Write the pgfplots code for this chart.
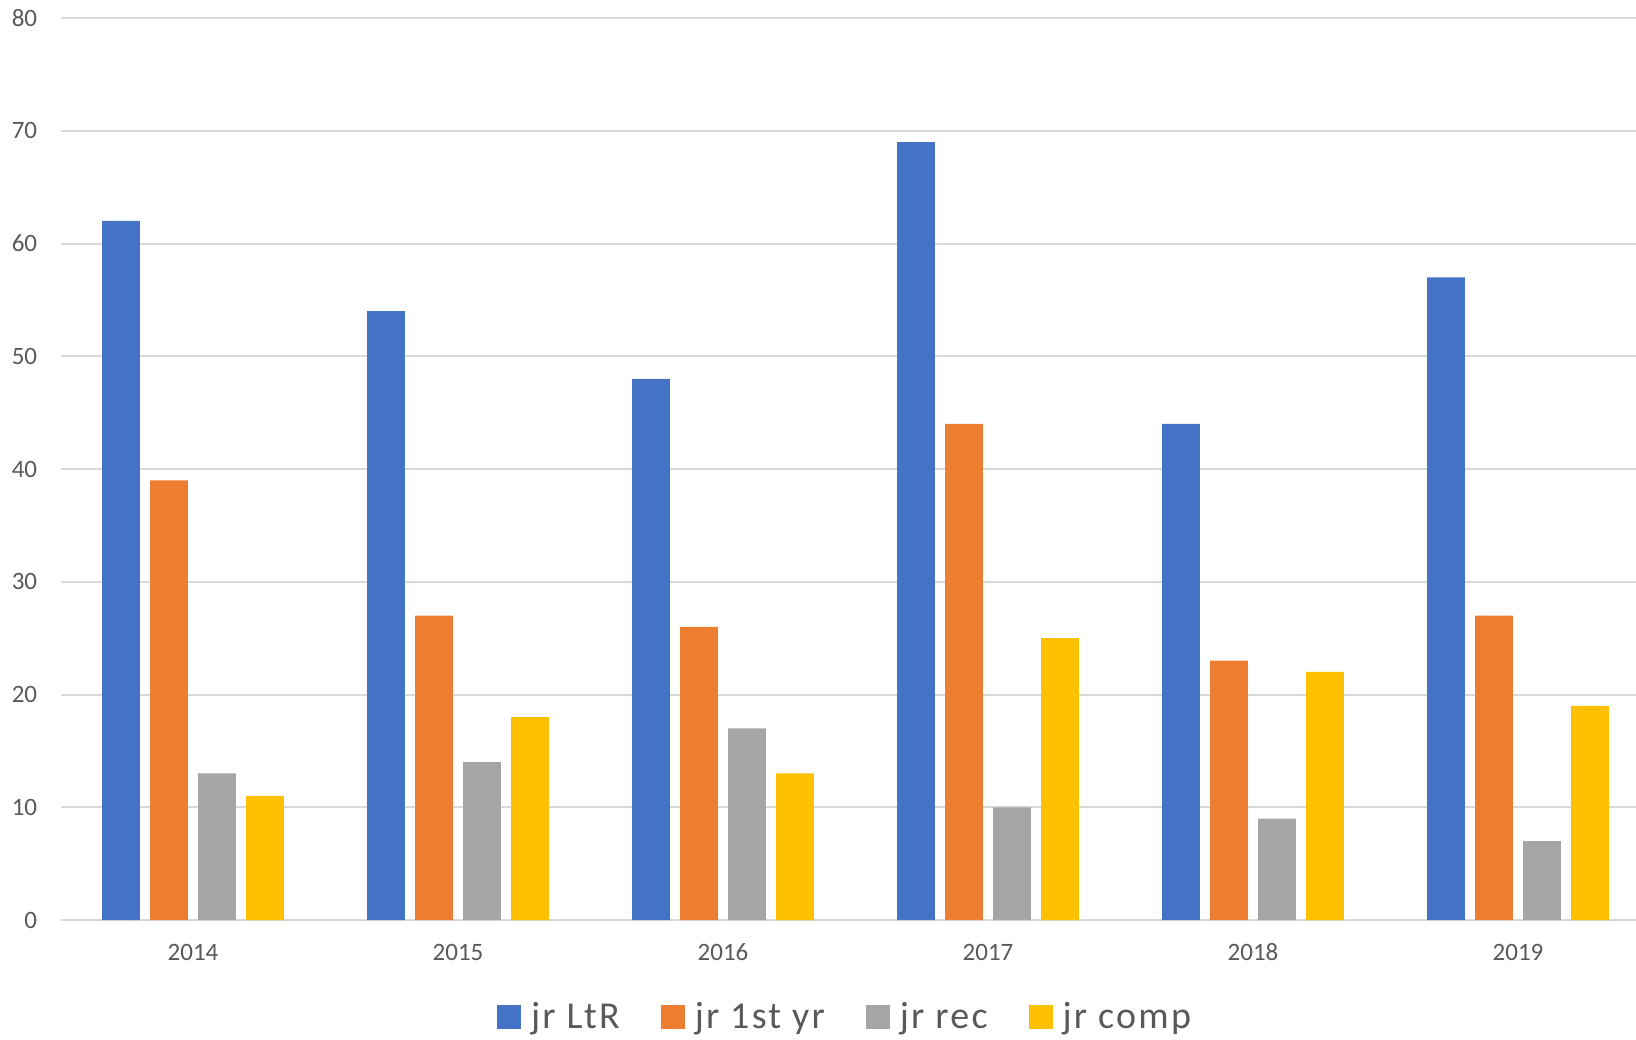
\documentclass[border=0pt]{standalone}
\usepackage{fontspec}
\setmainfont{Carlito}
\newfontfamily\legendfont[LetterSpace=6]{Carlito}
\usepackage{pgfplots}
\pgfplotsset{compat=1.18}

\definecolor{cBlue}{HTML}{4472C4}
\definecolor{cOrange}{HTML}{ED7D31}
\definecolor{cGray}{HTML}{A5A5A5}
\definecolor{cYellow}{HTML}{FFC000}
\definecolor{gridgray}{HTML}{D9D9D9}
\definecolor{textgray}{HTML}{595959}

\begin{document}
\begin{tikzpicture}
\useasboundingbox (0pt,0pt) rectangle (818pt,519.5pt);
\clip (0pt,0pt) rectangle (818pt,519.5pt);
\begin{axis}[
  at={(30.25pt,59.5pt)}, anchor=south west,
  scale only axis, width=795pt, height=451pt,
  xmin=-0.5, xmax=5.5, ymin=0, ymax=80,
  ybar=5.2pt, bar width=18.8pt,
  xtick={0,1,2,3,4,5},
  xticklabels={2014,2015,2016,2017,2018,2019},
  ytick={0,10,...,80},
  axis line style={draw=none},
  major tick length=0pt,
  ymajorgrids,
  grid style={draw=gridgray, line width=1pt},
  tick label style={font=\fontsize{12.5}{15}\selectfont, text=textgray},
  xticklabel style={anchor=base, inner sep=0pt, yshift=-20pt},
  yticklabel style={anchor=east, inner sep=0pt, xshift=-11.5pt},
  /pgf/number format/assume math mode=true,
  legend columns=-1,
  legend image code/.code={\fill[#1] (0pt,-6.3pt) rectangle (12pt,5.7pt);},
  legend style={
    at={(rel axis cs:0.4928,-0.124)}, anchor=south,
    draw=none, fill=none, inner sep=0pt,
    font=\legendfont\fontsize{19}{22}\selectfont, text=textgray,
    nodes={inner sep=0pt},
    /tikz/every odd column/.append style={column sep=5pt},
    /tikz/every even column/.append style={column sep=20.5pt},
  },
]
\addplot[fill=cBlue, draw=none] coordinates {(0,62) (1,54) (2,48) (3,69) (4,44) (5,57)};
\addplot[fill=cOrange, draw=none] coordinates {(0,39) (1,27) (2,26) (3,44) (4,23) (5,27)};
\addplot[fill=cGray, draw=none] coordinates {(0,13) (1,14) (2,17) (3,10) (4,9) (5,7)};
\addplot[fill=cYellow, draw=none] coordinates {(0,11) (1,18) (2,13) (3,25) (4,22) (5,19)};
\legend{jr LtR, jr 1st yr, jr rec, jr comp}
\end{axis}
\end{tikzpicture}
\end{document}
